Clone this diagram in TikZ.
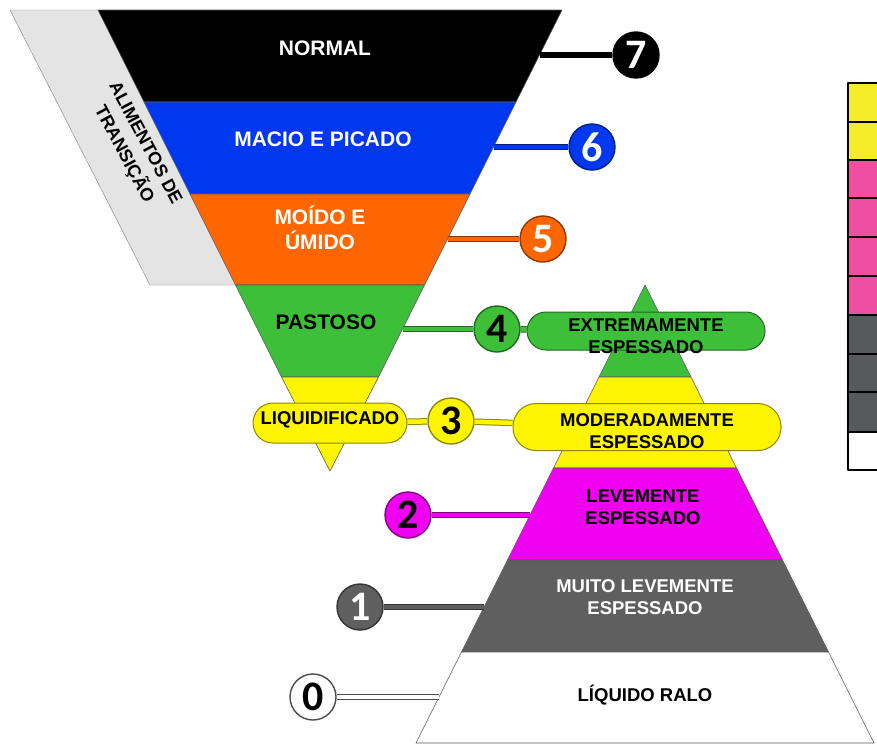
\documentclass[tikz,border=0pt]{standalone}
\usepackage{fontspec}
\setmainfont{Liberation Sans}
\newfontfamily\numfont{Carlito}
\definecolor{cpreto}{HTML}{000000}
\definecolor{cazul}{HTML}{0038F0}
\definecolor{claranja}{HTML}{FF6600}
\definecolor{cverde}{HTML}{3DBF3A}
\definecolor{camarelo}{HTML}{FFF500}
\definecolor{cmagenta}{HTML}{F000F0}
\definecolor{ccinza}{HTML}{5F5F5F}
\definecolor{cbranco}{HTML}{FFFFFF}
\definecolor{ctransicao}{HTML}{E4E4E4}
\definecolor{tamarelo}{HTML}{F5EC2A}
\definecolor{trosa}{HTML}{EE4FA0}
\definecolor{tcinza}{HTML}{58595B}
\begin{document}
\begin{tikzpicture}[x=1pt, y=-1pt, line join=round, line cap=round,
	lbl/.style={font=\bfseries\fontsize{18.5}{22}\selectfont, align=center, inner sep=0pt},
	lblf/.style={font=\bfseries\fontsize{21}{25}\selectfont, align=center, inner sep=0pt},
	num/.style={circle, fill=#1, draw=#1!55!black, line width=1.4pt, minimum size=46pt, inner sep=0pt,
		font=\numfont\bfseries\fontsize{42}{42}\selectfont},
	pill/.style={fill=#1, draw=#1!55!black, line width=1pt, inner sep=0pt},
	link/.style={draw=#1!55!black, double=#1, double distance=4.5pt, line width=1pt, line cap=butt},
	faixa/.style={draw=black!65, line width=0.6pt}]
	\useasboundingbox (0,0) rectangle (877,745);
	% Funil (alimentos)
	\draw[fill=ctransicao, draw=gray] (10,10)--(98,10)--(238,285)--(150,285)--cycle;
	\draw[faixa, fill=cpreto] (98,10)--(562,10)--(516,102)--(144,102)--cycle;
	\draw[faixa, fill=cazul] (144,102)--(516,102)--(470,194)--(190,194)--cycle;
	\draw[faixa, fill=claranja] (190,194)--(470,194)--(424.5,285)--(235.5,285)--cycle;
	\draw[faixa, fill=cverde] (235.5,285)--(424.5,285)--(378.5,377)--(281.5,377)--cycle;
	\draw[faixa, fill=camarelo] (281.5,377)--(378.5,377)--(330,471)--cycle;
	% Piramide (liquidos)
	\draw[faixa, fill=cverde] (645,285)--(691,377)--(599,377)--cycle;
	\draw[faixa, fill=camarelo] (599,377)--(691,377)--(736.5,468)--(553.5,468)--cycle;
	\draw[faixa, fill=cmagenta] (553.5,468)--(736.5,468)--(782.5,560)--(507.5,560)--cycle;
	\draw[faixa, fill=ccinza] (507.5,560)--(782.5,560)--(828.5,652)--(461.5,652)--cycle;
	\draw[faixa, fill=cbranco] (461.5,652)--(828.5,652)--(874,743)--(416,743)--cycle;
	% Tabela (cortada)
	\draw[line width=1.5pt, fill=tamarelo] (848,83) rectangle (890,122);
	\draw[line width=1.5pt, fill=tamarelo] (848,122) rectangle (890,160);
	\draw[line width=1.5pt, fill=trosa] (848,160) rectangle (890,198);
	\draw[line width=1.5pt, fill=trosa] (848,198) rectangle (890,237);
	\draw[line width=1.5pt, fill=trosa] (848,237) rectangle (890,276);
	\draw[line width=1.5pt, fill=trosa] (848,276) rectangle (890,315);
	\draw[line width=1.5pt, fill=tcinza] (848,315) rectangle (890,354);
	\draw[line width=1.5pt, fill=tcinza] (848,354) rectangle (890,392);
	\draw[line width=1.5pt, fill=tcinza] (848,392) rectangle (890,432);
	\draw[line width=1.5pt, fill=white] (848,432) rectangle (890,470);
	% Textos das faixas
	\node[lbl, rotate=-62, font=\bfseries\fontsize{18}{24}\selectfont] (transicao) at (134,149) {ALIMENTOS DE\\TRANSIÇÃO};
	\node[lblf, text=white] (normal) at (325,48) {NORMAL};
	\node[lblf, text=white] (macio) at (323,139) {MACIO E PICADO};
	\node[lblf, text=white] (moido) at (320,228) {MOÍDO E\\ÚMIDO};
	\node[lblf] (pastoso) at (326,322) {PASTOSO};
	\node[lbl] (leve) at (643,507) {LEVEMENTE\\ESPESSADO};
	\node[lbl, text=white] (muito) at (645,597) {MUITO LEVEMENTE\\ESPESSADO};
	\node[lbl] (ralo) at (645,695) {LÍQUIDO RALO};
	% Rotulos arredondados
	\node[pill=cverde, rounded corners=19pt, minimum width=238pt, minimum height=38pt] (extremo) at (646,331) {};
	\node[lbl] at (646,336) {EXTREMAMENTE\\ESPESSADO};
	\node[pill=camarelo, rounded corners=23pt, minimum width=268pt, minimum height=47pt] (moderado) at (647,427) {};
	\node[lbl] at (647,431) {MODERADAMENTE\\ESPESSADO};
	\node[pill=camarelo, rounded corners=20pt, minimum width=154pt, minimum height=40pt] (liquidif) at (330,423) {};
	\node[lbl] at (330,420) {LIQUIDIFICADO};
	% Numeros
	\node[num=cpreto, text=white] (n7) at (636,55) {7};
	\node[num=cazul, text=white] (n6) at (592,147) {6};
	\node[num=claranja, text=white] (n5) at (543,239) {5};
	\node[num=cverde] (n4) at (497,329) {4};
	\node[num=camarelo] (n3) at (451,421) {3};
	\node[num=cmagenta] (n2) at (408,515) {2};
	\node[num=ccinza, text=white] (n1) at (360,607) {1};
	\node[num=cbranco, draw=black!70] (n0) at (313,697) {0};
	% Pontos nas bordas
	\coordinate (e7) at (540,55);
	\coordinate (e6) at (493.5,147);
	\coordinate (e5) at (447.5,239);
	\coordinate (e4) at (403,329);
	\coordinate (e2) at (530,515);
	\coordinate (e1) at (484,607);
	\coordinate (e0) at (439,697);
	% Ligacoes
	\draw[link=cpreto] (e7)--(n7);
	\draw[link=cazul] (e6)--(n6);
	\draw[link=claranja] (e5)--(n5);
	\draw[link=cverde] (e4)--(n4);
	\draw[link=cverde] (n4)--(extremo);
	\draw[link=camarelo] (liquidif)--(n3);
	\draw[link=camarelo] (n3)--(moderado);
	\draw[link=cmagenta] (n2)--(e2);
	\draw[link=ccinza] (n1)--(e1);
	\draw[link=cbranco, draw=black!70] (n0)--(e0);
\end{tikzpicture}
\end{document}
